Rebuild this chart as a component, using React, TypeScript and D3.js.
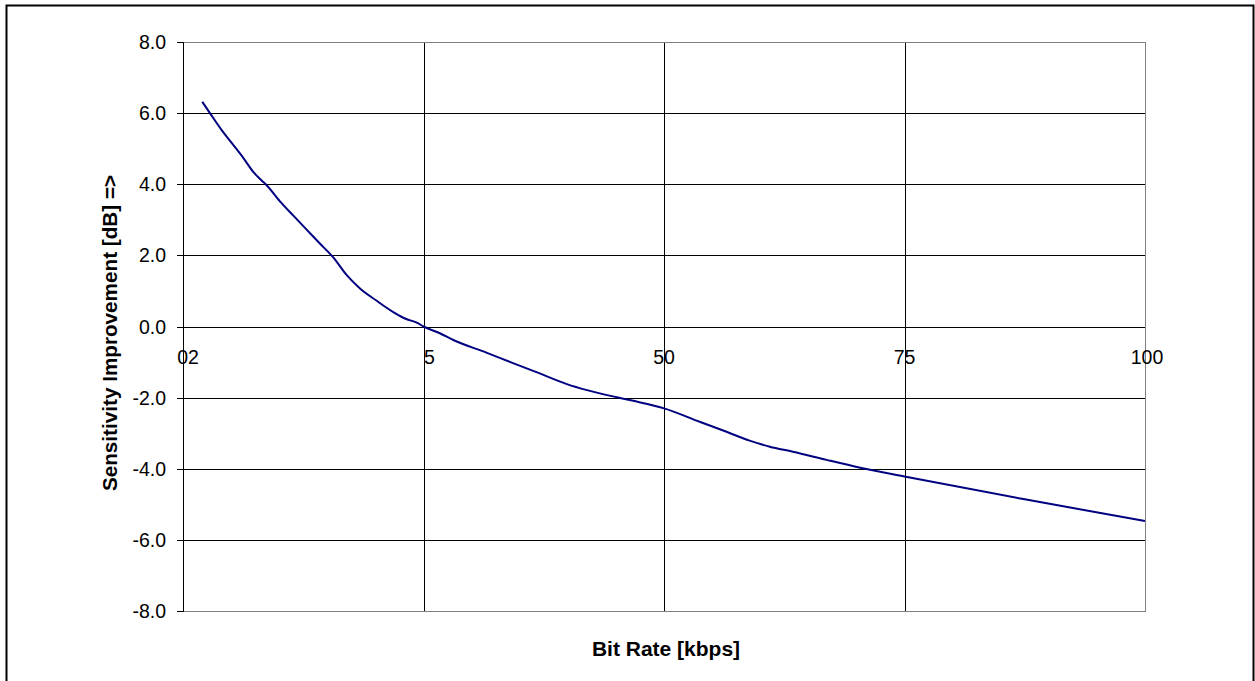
import React from "react";
import * as d3 from "d3";

const bitRate = [2.0, 2.8, 4.0, 5.1, 6.3, 7.3, 8.2, 8.6, 10.1, 11.5, 12.9, 14.2, 15.6, 17.0, 18.4, 20.1, 21.9, 23.2, 24.3, 25.0, 26.7, 28.1, 31.6, 34.3, 36.6, 39.9, 42.0, 45.1, 46.8, 50.1, 53.7, 56.5, 58.9, 61.0, 63.4, 66.9, 70.4, 75.0, 87.5, 100];
const improvement = [6.32, 6.0, 5.53, 5.15, 4.73, 4.35, 4.1, 4.0, 3.51, 3.11, 2.71, 2.34, 1.95, 1.45, 1.07, 0.73, 0.4, 0.21, 0.11, 0.0, -0.19, -0.38, -0.74, -1.03, -1.27, -1.62, -1.79, -1.99, -2.09, -2.31, -2.68, -2.96, -3.21, -3.38, -3.52, -3.75, -3.97, -4.22, -4.86, -5.47];
const xTicks = [0, 25, 50, 75, 100];
const xTickLabels = ["02", "5", "50", "75", "100"];
const yTicks = [-8, -6, -4, -2, 0, 2, 4, 6, 8];

export default function App() {
  const W = 1255, H = 681;
  const left = 183, right = 1145, top = 42, bottom = 611;
  const x = d3.scaleLinear().domain([0, 100]).range([left, right]);
  const y = d3.scaleLinear().domain([-8, 8]).range([bottom, top]);
  const pts = bitRate.map((b, i) => [b, improvement[i]] as [number, number]);
  const line = d3.line<[number, number]>().x(d => x(d[0])).y(d => y(d[1])).curve(d3.curveMonotoneX);
  const font = "'Liberation Sans', Arial, sans-serif";
  const labelDx = [5, 6, 0, 0, 2];
  return (
    <div style={{ position: "fixed", left: 0, top: 0 }}>
      <svg width={W} height={H} style={{ display: "block", background: "#fff" }}>
        <rect x={6.5} y={5.5} width={1247} height={690} fill="#fff" stroke="#000" strokeWidth={2} />
        {yTicks.filter(t => t !== 8 && t !== -8).map(t => (
          <line key={"h" + t} x1={left - 6} x2={right} y1={Math.round(y(t)) + 0.5} y2={Math.round(y(t)) + 0.5} stroke="#000" strokeWidth={1} />
        ))}
        {xTicks.filter(t => t !== 0 && t !== 100).map(t => (
          <line key={"v" + t} x1={Math.round(x(t)) + 0.5} x2={Math.round(x(t)) + 0.5} y1={top} y2={bottom} stroke="#000" strokeWidth={1} />
        ))}
        <line x1={left} x2={right + 0.5} y1={top + 0.5} y2={top + 0.5} stroke="#808080" />
        <line x1={left} x2={right + 0.5} y1={bottom + 0.5} y2={bottom + 0.5} stroke="#808080" />
        <line x1={right + 0.5} x2={right + 0.5} y1={top} y2={bottom + 1} stroke="#808080" />
        {[8, -8].map(t => (
          <line key={"t" + t} x1={left - 6} x2={left} y1={Math.round(y(t)) + 0.5} y2={Math.round(y(t)) + 0.5} stroke="#000" />
        ))}
        <line x1={left + 0.5} x2={left + 0.5} y1={top} y2={bottom + 1} stroke="#000" />
        <path d={line(pts) || ""} fill="none" stroke="#000080" strokeWidth={2} strokeLinejoin="round" />
        {yTicks.map(t => (
          <text key={"yl" + t} x={166} y={y(t)} dy="0.36em" textAnchor="end" fontFamily={font} fontSize={19.5} fill="#000">
            {t.toFixed(1)}
          </text>
        ))}
        {xTicks.map((t, i) => (
          <text key={"xl" + t} x={x(t) + labelDx[i]} y={364} textAnchor="middle" fontFamily={font} fontSize={19.5} fill="#000">
            {xTickLabels[i]}
          </text>
        ))}
        <text x={666} y={656} textAnchor="middle" fontFamily={font} fontSize={21} fontWeight="bold" fill="#000">
          Bit Rate [kbps]
        </text>
        <text transform="translate(117,333) rotate(-90)" textAnchor="middle" fontFamily={font} fontSize={20.7} fontWeight="bold" fill="#000">
          Sensitivity Improvement [dB] =&gt;
        </text>
      </svg>
    </div>
  );
}
